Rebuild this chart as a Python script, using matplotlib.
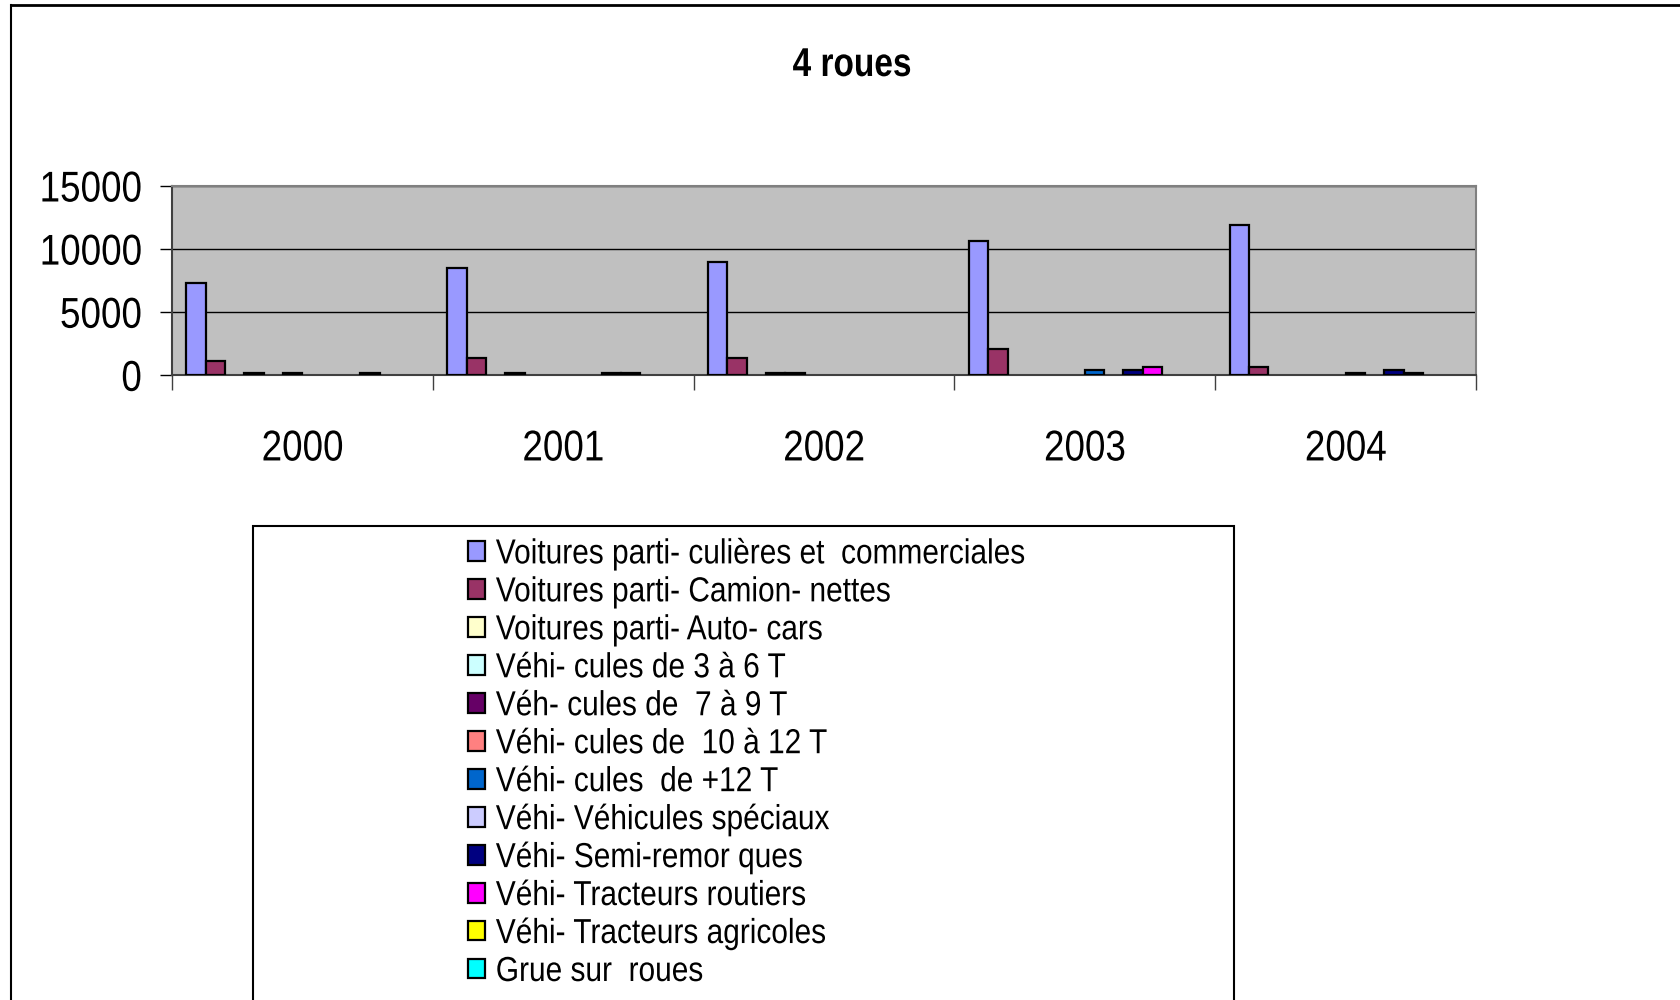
import numpy as np
import matplotlib
matplotlib.use("Agg")
import matplotlib.pyplot as plt
from matplotlib.patches import Rectangle
from matplotlib.lines import Line2D
from matplotlib.patheffects import AbstractPathEffect
from matplotlib.transforms import Affine2D

plt.rcParams['font.family'] = ['Liberation Sans', 'DejaVu Sans']


class Narrow(AbstractPathEffect):
    """Horizontally condense glyphs (emulates a narrow typeface)."""
    def __init__(self, sx=0.85, anchor="center"):
        super().__init__()
        self.sx = sx
        self.anchor = anchor

    def draw_path(self, renderer, gc, tpath, affine, rgbFace=None):
        ext = tpath.get_extents()
        if self.anchor == "left":
            cx = 0.0
        elif self.anchor == "right":
            cx = ext.x1
        else:
            cx = 0.5 * (ext.x0 + ext.x1)
        t = Affine2D().translate(-cx, 0).scale(self.sx, 1).translate(cx, 0) + affine
        renderer.draw_path(gc, tpath, t, rgbFace)


years = ["2000", "2001", "2002", "2003", "2004"]
series_names = [
    "Voitures parti- culières et  commerciales",
    "Voitures parti- Camion- nettes",
    "Voitures parti- Auto- cars",
    "Véhi- cules de 3 à 6 T",
    "Véh- cules de  7 à 9 T",
    "Véhi- cules de  10 à 12 T",
    "Véhi- cules  de +12 T",
    "Véhi- Véhicules spéciaux",
    "Véhi- Semi-remor ques",
    "Véhi- Tracteurs routiers",
    "Véhi- Tracteurs agricoles",
    "Grue sur  roues",
]
colors = ["#9999FF", "#993366", "#FFFFCC", "#CCFFFF", "#660066", "#FF8080",
          "#0066CC", "#CCCCFF", "#000080", "#FF00FF", "#FFFF00", "#00FFFF"]

voitures_commerciales = [7350, 8500, 9000, 10650, 11900]
camionnettes = [1100, 1370, 1350, 2100, 680]
autocars = [0, 0, 0, 0, 0]
vehicules_3_6 = [200, 200, 200, 0, 0]
vehicules_7_9 = [0, 0, 200, 0, 0]
vehicules_10_12 = [200, 0, 0, 0, 0]
vehicules_plus12 = [0, 0, 0, 420, 200]
speciaux = [0, 0, 0, 0, 0]
semi_remorques = [0, 200, 0, 420, 420]
tracteurs_routiers = [200, 200, 0, 680, 200]
tracteurs_agricoles = [0, 0, 0, 0, 0]
grue = [0, 0, 0, 0, 0]

data = [voitures_commerciales, camionnettes, autocars, vehicules_3_6, vehicules_7_9,
        vehicules_10_12, vehicules_plus12, speciaux, semi_remorques,
        tracteurs_routiers, tracteurs_agricoles, grue]

W, H = 1681, 1000
fig = plt.figure(figsize=(W / 100, H / 100), dpi=100)
fig.patch.set_facecolor("white")

ax = fig.add_axes([172 / W, 1 - 375.3 / H, 1304 / W, 189.3 / H])
ax.set_facecolor("#C0C0C0")

n = len(data)
w = 1 / 13.5
x = np.arange(len(years))
handles = []
for i, (vals, c, lab) in enumerate(zip(data, colors, series_names)):
    v = np.array(vals, dtype=float)
    v = np.where(v > 0, v, np.nan)
    b = ax.bar(x + (i - (n - 1) / 2) * w, v, width=w, color=c, edgecolor="black",
               linewidth=1.6, label=lab, zorder=3)
    handles.append(b)

ax.set_xlim(-0.5, len(years) - 0.5)
ax.set_ylim(0, 15000)
ax.set_yticks([0, 5000, 10000, 15000])
ax.yaxis.grid(True, color="black", linewidth=1.0, zorder=1)
ax.set_axisbelow(True)
ax.tick_params(axis="y", labelsize=31, length=8.6, width=1, pad=13, color="black")
ax.set_xticks(x)
ax.set_xticklabels(years)
ax.set_xticks(np.arange(len(years) + 1) - 0.5, minor=True)
ax.tick_params(axis="x", which="major", length=0, labelsize=31, pad=39)
ax.tick_params(axis="x", which="minor", length=11, width=1, color="#404040")
for s in ["top", "right"]:
    ax.spines[s].set_color("#808080")
    ax.spines[s].set_linewidth(1.5)
ax.spines["left"].set_color("#404040")
ax.spines["bottom"].set_color("#404040")
ax.spines["left"].set_linewidth(1.5)
ax.spines["bottom"].set_linewidth(1.5)

for t in ax.get_yticklabels():
    t.set_path_effects([Narrow(0.855, "right")])
for t in ax.get_xticklabels():
    t.set_path_effects([Narrow(0.855, "center")])

title = fig.text(852 / W, 1 - 65 / H, "4 roues", ha="center", va="center",
                 fontsize=29, fontweight="bold")
title.set_path_effects([Narrow(0.83, "center")])

# outer chart border
fig.add_artist(Line2D([11 / W, 11 / W], [1 - 5 / H, -0.05], color="black", lw=1.5))
fig.add_artist(Line2D([11 / W, 1.05], [1 - 5 / H, 1 - 5 / H], color="black", lw=2))

# legend box
fig.add_artist(Rectangle((253 / W, -0.05), (1234 - 253) / W, (1 - 525.7 / H) + 0.05,
                         transform=fig.transFigure, facecolor="white",
                         edgecolor="black", lw=1.5, zorder=0))

leg = fig.legend(handles=handles, labels=series_names, loc="upper left",
                 bbox_to_anchor=(454.5 / W, 1 - 523.5 / H), frameon=False,
                 fontsize=25, handlelength=0.49, handleheight=0.49,
                 handletextpad=0.3, labelspacing=0.143, borderaxespad=0)
for p in leg.get_patches():
    p.set_linewidth(1.6)
for t in leg.get_texts():
    t.set_path_effects([Narrow(0.86, "left")])

fig.savefig("out.png", dpi=100)
